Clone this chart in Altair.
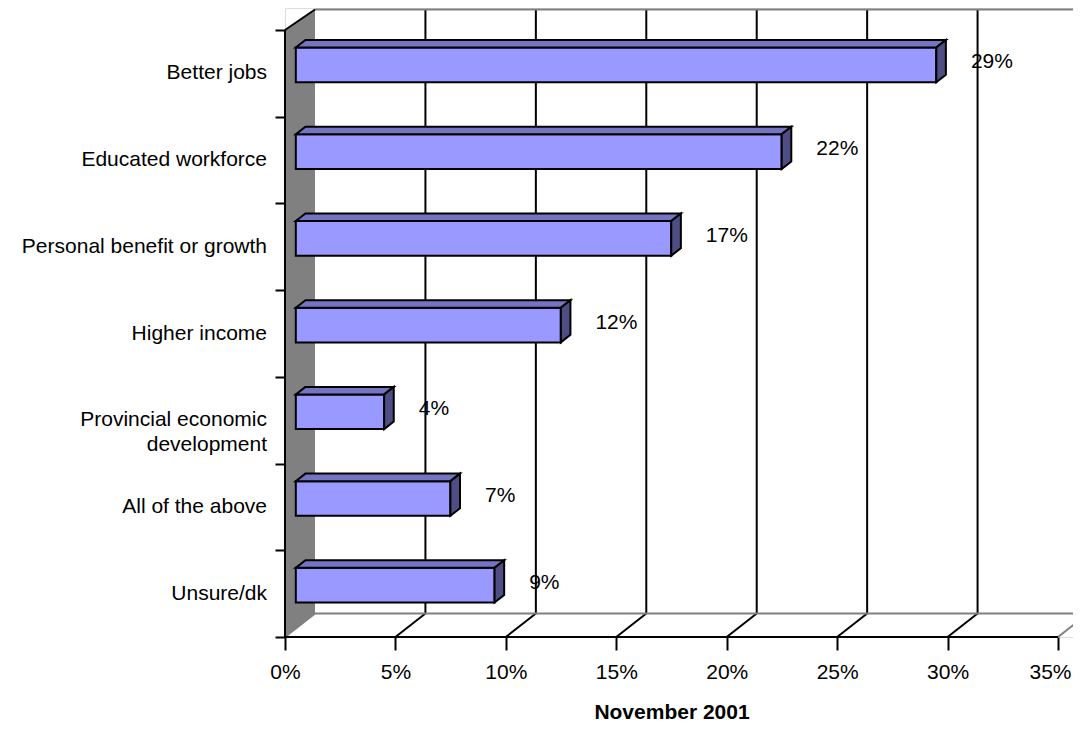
import altair as alt
import pandas as pd

# ---------------- data ----------------
categories = [
    "Better jobs",
    "Educated workforce",
    "Personal benefit or growth",
    "Higher income",
    "Provincial economic\ndevelopment",
    "All of the above",
    "Unsure/dk",
]
values = [29, 22, 17, 12, 4, 7, 9]
value_labels = ["29%", "22%", "17%", "12%", "4%", "7%", "9%"]
x_ticks = [0, 5, 10, 15, 20, 25, 30, 35]
x_title = "November 2001"

# ---------------- geometry / style ----------------
FONT = "Liberation Sans"
FS = 21
VIEW_W = 788
VIEW_H = 629
PX_PER_PCT = 773 / 35.0
NROWS = len(categories)
PX_PER_ROW = 607 / NROWS
XMAX = VIEW_W / PX_PER_PCT
YMAX = VIEW_H / PX_PER_ROW
DX = 30 / PX_PER_PCT          # 3D depth, x direction (in % units)
DY = 23.5 / PX_PER_ROW        # 3D depth, y direction (in row units)
WALL_TOP = (VIEW_H - 1.5) / PX_PER_ROW
F1, F2 = 0.36, 0.68           # bar depth fractions (front / back)
HALF = 0.2                    # half bar thickness in rows
XLAST = x_ticks[-1]

FRONT = "#9999FF"
TOPC = "#7474C2"
SIDE = "#4E4E84"
GRAY = "#808080"
BLACK = "#000000"

X_SCALE = alt.Scale(domain=[0, XMAX], nice=False, zero=False)
Y_SCALE = alt.Scale(domain=[0, YMAX], nice=False, zero=False)
X_AXIS = alt.Axis(
    values=x_ticks, labelExpr="datum.value + '%'", title=x_title,
    domain=False, grid=False, ticks=True, tickSize=13, tickWidth=2,
    tickColor=BLACK, labelFont=FONT, labelFontSize=FS, labelColor=BLACK,
    labelBaseline="alphabetic", labelPadding=28, labelFlush=False,
    labelOffset={"condition": {"test": f"datum.value == {XLAST}", "value": -8}, "value": 0},
    labelOverlap=False, titleFont=FONT, titleFontSize=FS, titleFontWeight="bold",
    titleColor=BLACK, titleX=XLAST / 2 * PX_PER_PCT, titleY=81,
    titleBaseline="alphabetic", titleAlign="center",
)
Y_AXIS = alt.Axis(
    values=list(range(NROWS + 1)), labels=False, title="", domain=False,
    grid=False, ticks=True, tickSize=10, tickWidth=2, tickColor=BLACK,
)


def ex(f, **kw):
    return alt.X(f"{f}:Q", scale=X_SCALE, axis=X_AXIS, **kw)


def ey(f, **kw):
    return alt.Y(f"{f}:Q", scale=Y_SCALE, axis=Y_AXIS, **kw)


# ---------------- frame (walls, floor, grid) ----------------
rules = []
for t in x_ticks[1:-1]:
    rules.append(dict(x=t + DX, x2=t + DX, y=DY, y2=WALL_TOP, c=BLACK))  # back grid
for t in x_ticks:
    col = GRAY if t in (x_ticks[0], XLAST) else BLACK
    rules.append(dict(x=t, x2=t + DX, y=0, y2=DY, c=col))  # floor diagonals
rules.append(dict(x=DX, x2=XMAX, y=DY, y2=DY, c=GRAY))            # back floor edge
rules.append(dict(x=DX, x2=XMAX, y=WALL_TOP, y2=WALL_TOP, c=GRAY))  # back wall top
rules.append(dict(x=0, x2=DX, y=NROWS, y2=WALL_TOP, c=BLACK))      # side wall top edge
axis_lines = [
    dict(x=0, x2=XLAST, y=0, y2=0, c=BLACK),
    dict(x=0, x2=0, y=0, y2=NROWS, c=BLACK),
]
rules_df = pd.DataFrame(rules)
axis_df = pd.DataFrame(axis_lines)

side_df = pd.DataFrame([
    dict(x=0, y=0, y2=NROWS),
    dict(x=DX, y=DY, y2=WALL_TOP),
])

# ---------------- bars ----------------
front, topf, right, labs, cats = [], [], [], [], []
for i, (cat, v, lab) in enumerate(zip(categories, values, value_labels)):
    c = NROWS - 0.5 - i
    front.append(dict(x=F1 * DX, x2=v + F1 * DX, y=c - HALF + F1 * DY, y2=c + HALF + F1 * DY))
    for f in (F1, F2):
        topf.append(dict(id=i, y=c + HALF + f * DY, x=f * DX, x2=v + f * DX))
        right.append(dict(id=i, x=v + f * DX, y=c - HALF + f * DY, y2=c + HALF + f * DY))
    labs.append(dict(x=v + F2 * DX, y=c, t=lab))
    cats.append(dict(x=0, y=c, t=cat))

front_df = pd.DataFrame(front)
top_df = pd.DataFrame(topf)
right_df = pd.DataFrame(right)
labs_df = pd.DataFrame(labs)
cats_df = pd.DataFrame(cats)

# ---------------- layers ----------------
side_layer = alt.Chart(side_df).mark_area(fill=GRAY, opacity=1, orient="vertical").encode(
    x=ex("x"), y=ey("y", stack=False), y2=alt.Y2("y2"))

rule_layer = alt.Chart(rules_df).mark_rule(strokeWidth=2).encode(
    x=ex("x"), x2=alt.X2("x2"), y=ey("y"), y2=alt.Y2("y2"),
    color=alt.Color("c:N", scale=None))

front_layer = alt.Chart(front_df).mark_rect(
    fill=FRONT, stroke=BLACK, strokeWidth=2, opacity=1).encode(
    x=ex("x"), x2=alt.X2("x2"), y=ey("y"), y2=alt.Y2("y2"))

top_layer = alt.Chart(top_df).mark_area(
    fill=TOPC, stroke=BLACK, strokeWidth=2, opacity=1, orient="horizontal",
    strokeJoin="miter").encode(
    y=ey("y"), x=ex("x", stack=False), x2=alt.X2("x2"), detail="id:N")

right_layer = alt.Chart(right_df).mark_area(
    fill=SIDE, stroke=BLACK, strokeWidth=2, opacity=1, orient="vertical",
    strokeJoin="miter").encode(
    x=ex("x"), y=ey("y", stack=False), y2=alt.Y2("y2"), detail="id:N")

axis_layer = alt.Chart(axis_df).mark_rule(strokeWidth=2).encode(
    x=ex("x"), x2=alt.X2("x2"), y=ey("y"), y2=alt.Y2("y2"),
    color=alt.Color("c:N", scale=None))

lab_layer = alt.Chart(labs_df).mark_text(
    align="left", baseline="middle", dx=25, dy=-11, font=FONT, fontSize=FS,
    color=BLACK).encode(x=ex("x"), y=ey("y"), text="t:N")

cat_layer = alt.Chart(cats_df).mark_text(
    align="right", baseline="middle", dx=-18, font=FONT, fontSize=FS,
    color=BLACK, lineBreak="\n", lineHeight=25).encode(
    x=ex("x"), y=ey("y"), text="t:N")

chart = alt.layer(
    side_layer, rule_layer, front_layer, top_layer, right_layer,
    axis_layer, lab_layer, cat_layer,
).properties(
    width=VIEW_W, height=VIEW_H,
    autosize=alt.AutoSizeParams(type="none"),
    padding={"left": 277, "top": 0, "right": 0, "bottom": 86},
    background="white",
).configure_view(strokeWidth=0).configure(font=FONT)

chart.save("out.html", embed_options={"renderer": "svg", "actions": False})
